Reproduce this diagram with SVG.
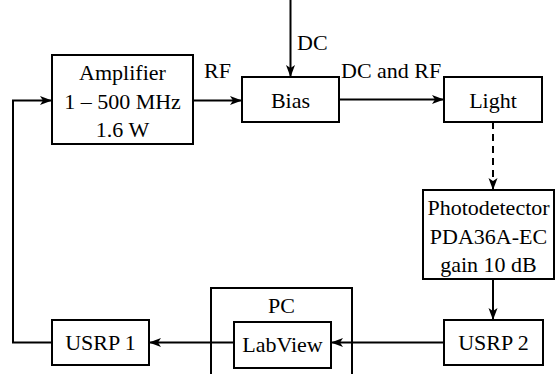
<svg xmlns="http://www.w3.org/2000/svg" width="555" height="374" viewBox="0 0 555 374">
  <style>
    .box { fill: #fff; stroke: #000; stroke-width: 2; }
    .frame { fill: none; stroke: #000; stroke-width: 2; }
    .wire { fill: none; stroke: #000; stroke-width: 2; }
    .dash { stroke-dasharray: 7 5; }
    .lbl { font-family: "Liberation Serif", "Times New Roman", serif; font-size: 22px; fill: #000; }
    .mid { text-anchor: middle; }
  </style>
  <defs>
    <marker id="arrow" viewBox="0 0 12 10" refX="11" refY="5" markerWidth="12" markerHeight="10" markerUnits="userSpaceOnUse" orient="auto">
      <path d="M0,0.5 L12,5 L0,9.5 L3,5 z" fill="#000"/>
    </marker>
  </defs>

  <rect width="555" height="374" fill="#fff"/>

  <!-- connectors and their labels -->
  <g id="connectors">
    <line class="wire" x1="290.5" y1="0" x2="290.5" y2="76" marker-end="url(#arrow)"/>
    <line class="wire" x1="193" y1="100.5" x2="241" y2="100.5" marker-end="url(#arrow)"/>
    <line class="wire" x1="339" y1="99.5" x2="443" y2="99.5" marker-end="url(#arrow)"/>
    <line class="wire dash" x1="493" y1="122" x2="493" y2="189" marker-end="url(#arrow)"/>
    <line class="wire" x1="493" y1="279" x2="493" y2="319" marker-end="url(#arrow)"/>
    <line class="wire" x1="444" y1="342.5" x2="332" y2="342.5" marker-end="url(#arrow)"/>
    <line class="wire" x1="234" y1="342.5" x2="150" y2="342.5" marker-end="url(#arrow)"/>
    <polyline class="wire" points="52,342.5 13,342.5 13,100.5 51,100.5" marker-end="url(#arrow)"/>
    <text class="lbl" x="204" y="78">RF</text>
    <text class="lbl" x="341" y="78">DC and RF</text>
    <text class="lbl" x="297" y="50">DC</text>
  </g>

  <!-- PC frame holding the LabView block -->
  <g id="pc">
    <rect class="frame" x="211" y="288" width="141" height="100"/>
    <text class="lbl mid" x="281.5" y="313">PC</text>
  </g>

  <g id="amplifier">
    <rect class="box" x="52" y="55" width="141" height="89"/>
    <text class="lbl mid" x="122.5" y="80">Amplifier</text>
    <text class="lbl mid" x="122.5" y="108.5">1 – 500 MHz</text>
    <text class="lbl mid" x="122.5" y="137">1.6 W</text>
  </g>

  <g id="bias">
    <rect class="box" x="242" y="77" width="97" height="45"/>
    <text class="lbl mid" x="290.5" y="107.5">Bias</text>
  </g>

  <g id="light">
    <rect class="box" x="444" y="77" width="98" height="45"/>
    <text class="lbl mid" x="493" y="107.5">Light</text>
  </g>

  <g id="photodetector">
    <rect class="box" x="423" y="190" width="131" height="89"/>
    <text class="lbl mid" x="488.5" y="215">Photodetector</text>
    <text class="lbl mid" x="488.5" y="243.5">PDA36A-EC</text>
    <text class="lbl mid" x="488.5" y="272">gain 10 dB</text>
  </g>

  <g id="usrp2">
    <rect class="box" x="444" y="320" width="99" height="45"/>
    <text class="lbl mid" x="493.5" y="350">USRP 2</text>
  </g>

  <g id="labview">
    <rect class="box" x="234" y="322" width="97" height="46"/>
    <text class="lbl mid" x="282.5" y="352">LabView</text>
  </g>

  <g id="usrp1">
    <rect class="box" x="52" y="320" width="97" height="45"/>
    <text class="lbl mid" x="100.5" y="350">USRP 1</text>
  </g>
</svg>
